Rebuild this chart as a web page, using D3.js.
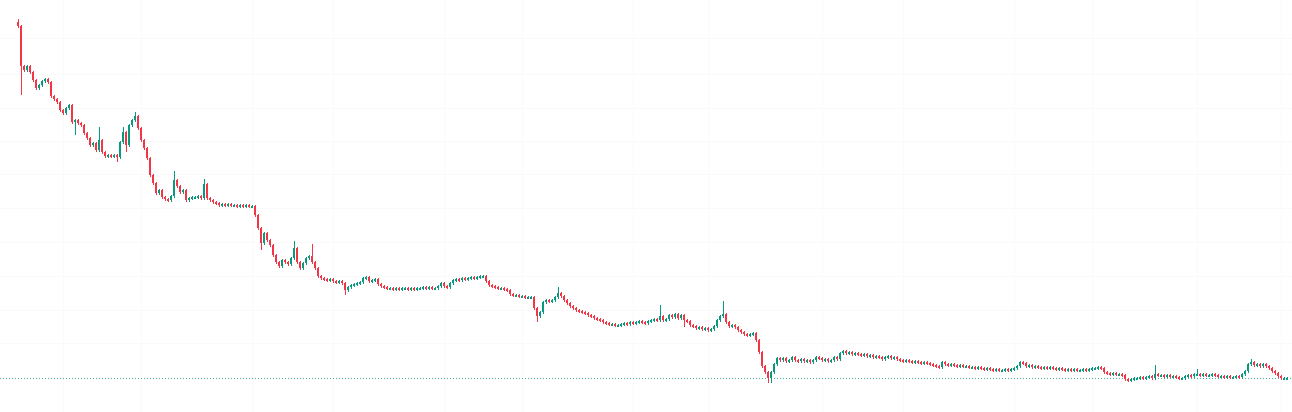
<!DOCTYPE html>
<html>
<head>
<meta charset="utf-8">
<script src="https://cdn.jsdelivr.net/npm/d3@7"></script>
<style>
  html, body { margin: 0; padding: 0; background: #ffffff; }
  svg { display: block; }
</style>
</head>
<body>
<div id="chart"></div>
<script>
// Candle data (price units), open of each candle = previous close
var firstOpen = 378;
var closes = [
  374, 334, 330, 334, 328, 320, 312, 315, 319, 321,
  318, 304, 301, 298, 290, 287, 292, 295, 278, 280,
  277, 275, 267, 262, 255, 257, 250, 260, 248, 244,
  245, 244, 245, 243, 258, 268, 255, 275, 280, 284,
  272, 260, 252, 242, 225, 217, 207, 210, 203, 201,
  200, 204, 220, 214, 208, 210, 200, 202, 203, 203,
  204, 202, 216, 202, 200, 198, 197, 195, 196, 195,
  196, 195, 195, 194, 195, 194, 195, 194, 194, 185,
  172, 157, 167, 160, 155, 145, 138, 134, 140, 138,
  136, 142, 152, 138, 132, 137, 142, 144, 138, 132,
  124, 122, 121, 120, 121, 119, 118, 119, 117, 110,
  113, 115, 116, 117, 118, 122, 123, 119, 120, 121,
  116, 114, 113, 112, 112, 111, 112, 111, 112, 112,
  111, 112, 111, 112, 112, 113, 112, 113, 112, 112,
  114, 117, 114, 113, 117, 120, 121, 120, 122, 121,
  122, 123, 122, 123, 124, 124, 119, 115, 114, 113,
  112, 112, 111, 110, 106, 105, 105, 104, 104, 103,
  103, 103, 92, 84, 88, 98, 100, 99, 100, 103,
  107, 104, 100, 97, 94, 92, 90, 89, 88, 87,
  85, 84, 82, 81, 80, 78, 77, 76, 76, 75,
  75, 76, 77, 76, 78, 77, 78, 79, 78, 77,
  79, 80, 81, 80, 84, 80, 81, 85, 83, 86,
  82, 85, 80, 79, 75, 74, 72, 73, 71, 72,
  70, 71, 74, 80, 84, 86, 78, 74, 75, 73,
  70, 68, 66, 65, 66, 67, 60, 48, 34, 28,
  22, 28, 36, 42, 40, 42, 39, 40, 43, 40,
  39, 41, 39, 40, 38, 40, 43, 42, 40, 41,
  39, 40, 43, 41, 47, 49, 47, 48, 46, 47,
  46, 45, 46, 44, 45, 43, 44, 43, 41, 43,
  44, 42, 43, 41, 40, 39, 40, 39, 38, 39,
  38, 37, 38, 37, 36, 35, 34, 33, 38, 36,
  35, 36, 35, 34, 35, 34, 34, 33, 33, 32,
  33, 32, 31, 32, 31, 30, 31, 30, 30, 31,
  30, 31, 32, 34, 38, 37, 34, 35, 33, 34,
  33, 32, 33, 32, 33, 32, 31, 32, 31, 30,
  31, 30, 31, 30, 30, 31, 30, 31, 32, 32,
  33, 32, 28, 27, 26, 27, 26, 26, 25, 21,
  20, 21, 22, 22, 23, 22, 23, 24, 22, 26,
  25, 25, 24, 25, 24, 24, 23, 22, 22, 24,
  25, 24, 26, 26, 25, 26, 25, 25, 26, 25,
  24, 24, 23, 24, 23, 23, 24, 23, 26, 29,
  36, 38, 35, 36, 34, 36, 34, 32, 29, 27,
  24, 22, 22, 22
];
// Wicks that reach beyond the body: [candle index, high, low]
var wicks = [
  [0, 380, null], [1, null, 307], [19, null, 267], [27, 272, null],
  [33, null, 240], [35, 272, null], [36, null, 250], [39, 287, null],
  [52, 228, null], [62, 220, null], [81, null, 152], [92, 158, null],
  [98, 155, null], [109, null, 107], [173, null, 80], [180, 112, null],
  [214, 94, null], [222, null, 75], [235, 98, null], [250, null, 19],
  [251, null, 19], [379, 34, null], [393, 30, null], [411, 40, null]
];
// Faint grid
var gridPrices = [362, 326, 292, 259, 226, 192, 158, 124, 90, 57];
var gridCandles = [15, 41, 78, 105, 142, 168, 205, 230, 268, 295, 332, 358, 393, 421];

var width = 1292;
var height = 412;
var upColor = "#089981";
var downColor = "#F23645";

var candles = closes.map(function(c, i) {
  var o = i === 0 ? firstOpen : closes[i - 1];
  return { i: i, open: o, close: c, high: Math.max(o, c), low: Math.min(o, c) };
});
wicks.forEach(function(w) {
  if (w[1] !== null) candles[w[0]].high = w[1];
  if (w[2] !== null) candles[w[0]].low = w[2];
});
var lastPrice = closes[closes.length - 1];

var svg = d3.select("#chart")
  .append("svg")
  .attr("width", width)
  .attr("height", height);

var x = d3.scaleBand()
  .domain(d3.range(candles.length))
  .range([17, 17 + 3 * candles.length]);

var y = d3.scaleLinear()
  .domain([0, 400])
  .range([400, 0]);

// grid lines (barely visible)
svg.append("g")
  .selectAll("line")
  .data(gridPrices)
  .enter()
  .append("line")
  .attr("x1", 0)
  .attr("x2", width)
  .attr("y1", function(d) { return Math.round(y(d)) + 0.5; })
  .attr("y2", function(d) { return Math.round(y(d)) + 0.5; })
  .attr("stroke", "#fafafb");

svg.append("g")
  .selectAll("line")
  .data(gridCandles)
  .enter()
  .append("line")
  .attr("x1", function(d) { return Math.round(x(d)) + 1.5; })
  .attr("x2", function(d) { return Math.round(x(d)) + 1.5; })
  .attr("y1", 0)
  .attr("y2", height)
  .attr("stroke", "#fafafb");

// last price line
svg.append("line")
  .attr("x1", 0)
  .attr("x2", width)
  .attr("y1", Math.round(y(lastPrice)) + 0.5)
  .attr("y2", Math.round(y(lastPrice)) + 0.5)
  .attr("stroke", upColor)
  .attr("stroke-opacity", 0.75)
  .attr("stroke-dasharray", "1,2");

var g = svg.append("g")
  .attr("shape-rendering", "crispEdges");

var candle = g.selectAll("g.candle")
  .data(candles)
  .enter()
  .append("g")
  .attr("class", "candle")
  .attr("fill", function(d) { return d.close >= d.open ? upColor : downColor; });

// wick
candle.append("rect")
  .attr("x", function(d) { return Math.round(x(d.i)) + 1; })
  .attr("width", 1)
  .attr("y", function(d) { return Math.round(y(d.high)) - 1; })
  .attr("height", function(d) { return Math.round(y(d.low)) - Math.round(y(d.high)) + 3; });

// body
candle.append("rect")
  .attr("x", function(d) { return Math.round(x(d.i)); })
  .attr("width", 2)
  .attr("y", function(d) { return Math.round(y(Math.max(d.open, d.close))); })
  .attr("height", function(d) {
    return Math.max(2, Math.round(y(Math.min(d.open, d.close))) - Math.round(y(Math.max(d.open, d.close))));
  });
</script>
</body>
</html>
